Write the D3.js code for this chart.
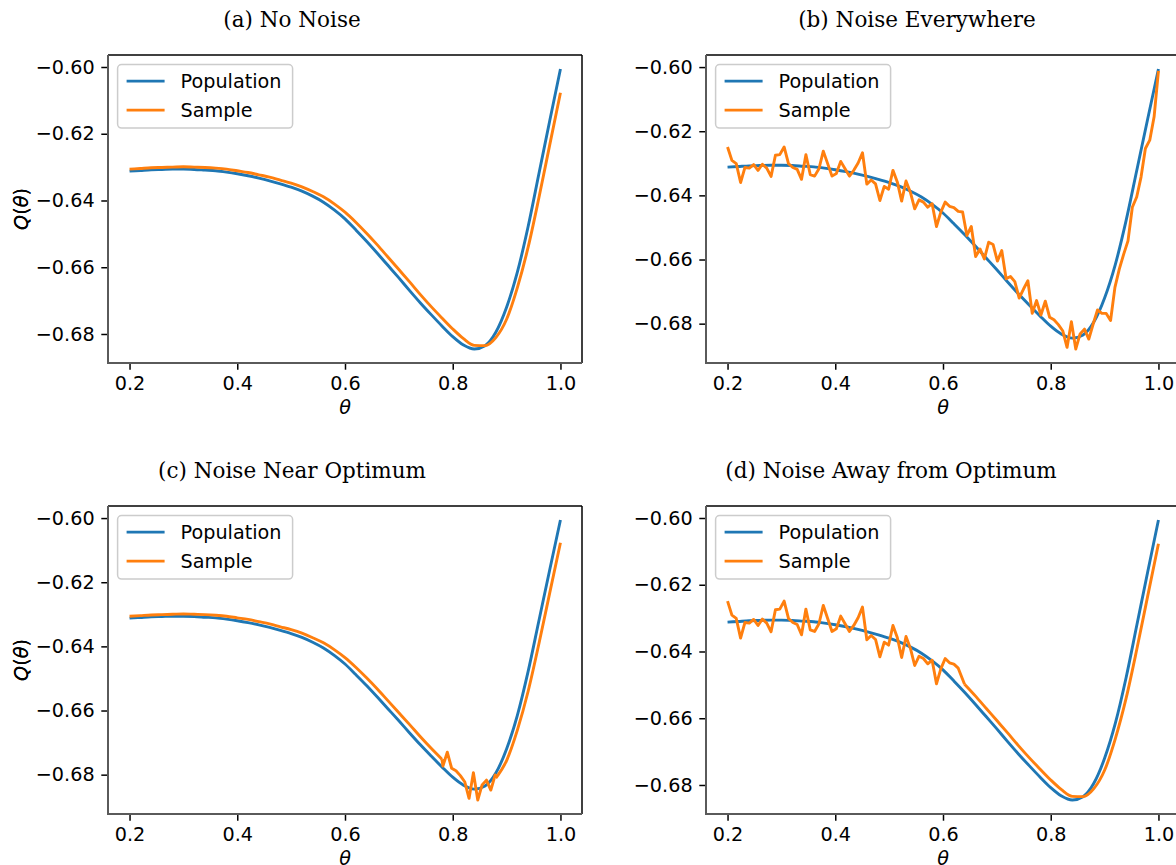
<!DOCTYPE html>
<html><head><meta charset="utf-8">
<script src="https://cdn.jsdelivr.net/npm/d3@7"></script>
<style>body{margin:0;background:#fff;} svg{display:block;}</style>
</head><body><svg id="chart" width="1176" height="865"></svg>
<script>
// ---------------- DATA ----------------
const panelTitles = ["(a) No Noise", "(b) Noise Everywhere", "(c) Noise Near Optimum", "(d) Noise Away from Optimum"];
const seriesNames = ["Population", "Sample"];
const xTicks = [0.2, 0.4, 0.6, 0.8, 1.0];
const yTicks = [-0.60, -0.62, -0.64, -0.66, -0.68];

// smooth curves sampled at theta = 0.20, 0.22, ..., 1.00
const thetaSmooth = [0.20,0.22,0.24,0.26,0.28,0.30,0.32,0.34,0.36,0.38,
                     0.40,0.42,0.44,0.46,0.48,0.50,0.52,0.54,0.56,0.58,
                     0.60,0.62,0.64,0.66,0.68,0.70,0.72,0.74,0.76,0.78,
                     0.80,0.82,0.84,0.86,0.88,0.90,0.92,0.94,0.96,0.98,1.00];
const population = [-0.6312,-0.6310,-0.6308,-0.6307,-0.6306,-0.6306,-0.6307,-0.6309,-0.6311,-0.6315,
                    -0.6320,-0.6326,-0.6333,-0.6341,-0.6350,-0.6360,-0.6372,-0.6387,-0.6405,-0.6428,
                    -0.6455,-0.6488,-0.6522,-0.6558,-0.6595,-0.6632,-0.6670,-0.6707,-0.6742,-0.6776,
                    -0.6808,-0.6833,-0.6845,-0.6835,-0.6795,-0.6720,-0.6615,-0.6478,-0.6320,-0.6162,-0.6006];
const sampleSmooth = [-0.6306,-0.6304,-0.6302,-0.6301,-0.6300,-0.6299,-0.6300,-0.6301,-0.6303,-0.6306,
                      -0.6311,-0.6316,-0.6323,-0.6330,-0.6339,-0.6348,-0.6359,-0.6373,-0.6389,-0.6410,
                      -0.6435,-0.6465,-0.6498,-0.6533,-0.6570,-0.6607,-0.6644,-0.6682,-0.6718,-0.6752,
                      -0.6785,-0.6814,-0.6834,-0.6835,-0.6811,-0.6756,-0.6661,-0.6540,-0.6392,-0.6234,-0.6077];

// noisy sample on 100 evenly spaced theta values from 0.2 to 1.0
const noisySample = [-0.6249,-0.6291,-0.6301,-0.6360,-0.6313,-0.6315,-0.6304,-0.6322,-0.6303,-0.6315,
                     -0.6341,-0.6275,-0.6273,-0.6249,-0.6301,-0.6313,-0.6319,-0.6350,-0.6273,-0.6335,
                     -0.6340,-0.6317,-0.6262,-0.6301,-0.6340,-0.6332,-0.6294,-0.6317,-0.6340,-0.6322,
                     -0.6299,-0.6267,-0.6365,-0.6352,-0.6364,-0.6416,-0.6372,-0.6381,-0.6322,-0.6358,
                     -0.6418,-0.6355,-0.6390,-0.6442,-0.6414,-0.6421,-0.6437,-0.6426,-0.6497,-0.6452,
                     -0.6421,-0.6434,-0.6438,-0.6450,-0.6452,-0.6525,-0.6497,-0.6591,-0.6567,-0.6598,
                     -0.6546,-0.6553,-0.6605,-0.6572,-0.6660,-0.6653,-0.6669,-0.6720,-0.6692,-0.6666,
                     -0.6768,-0.6728,-0.6773,-0.6730,-0.6780,-0.6788,-0.6803,-0.6822,-0.6874,-0.6794,
                     -0.6879,-0.6832,-0.6817,-0.6848,-0.6801,-0.6757,-0.6768,-0.6768,-0.6790,-0.6687,
                     -0.6630,-0.6584,-0.6542,-0.6437,-0.6405,-0.6343,-0.6254,-0.6228,-0.6155,-0.6012];
// index range of the noisy sample that each panel shows (null = none)
const noiseIndexRanges = [null, [0, 99], [72, 84], [0, 53]];

// ---------------- LAYOUT ----------------
const W = 1176, H = 865;
const panelBoxes = [
  {left:108, right:582, top:55,  bottom:363, titleX:292, titleY:27},
  {left:706, right:1180, top:55, bottom:363, titleX:917, titleY:27},
  {left:108, right:582, top:506, bottom:814, titleX:292, titleY:478},
  {left:706, right:1180, top:506, bottom:814, titleX:891, titleY:478}
];
const C_POP = "#1f77b4", C_SAMP = "#ff7f0e";
const FS = 19.2, TICK = 6.7, PAD = 6.7, LW = 2.9;
const FONT = "'DejaVu Sans', sans-serif";

const svg = d3.select("#chart");
svg.append("rect").attr("width", W).attr("height", H).attr("fill", "#fff");

const N = noisySample.length;
const thetaGrid = d3.range(N).map(i => 0.2 + i * (0.8 / (N - 1)));
const popPts = thetaSmooth.map((t, i) => [t, population[i]]);
const sampPts = thetaSmooth.map((t, i) => [t, sampleSmooth[i]]);
const noisyPts = thetaGrid.map((t, i) => [t, noisySample[i]]);

function sampleSegments(range) {
  if (!range) return [{pts: sampPts, curve: d3.curveMonotoneX}];
  const [a, b] = range;
  const ta = thetaGrid[a], tb = thetaGrid[b];
  const before = sampPts.filter(d => d[0] < ta - 1e-9);
  const after = sampPts.filter(d => d[0] > tb + 1e-9);
  const mid = noisyPts.slice(a, b + 1);
  const segs = [];
  if (before.length) segs.push({pts: before, curve: d3.curveMonotoneX});
  const linear = [];
  if (before.length) linear.push(before[before.length - 1]);
  linear.push(...mid);
  if (after.length) linear.push(after[0]);
  segs.push({pts: linear, curve: d3.curveLinear});
  if (after.length) segs.push({pts: after, curve: d3.curveMonotoneX});
  return segs;
}

panelBoxes.forEach((p, k) => {
  const g = svg.append("g");
  const segs = sampleSegments(noiseIndexRanges[k]);

  const xs = thetaSmooth;
  const [x0, x1] = d3.extent(xs), xp = (x1 - x0) * 0.05;
  const x = d3.scaleLinear().domain([x0 - xp, x1 + xp]).range([p.left, p.right]);
  const allY = population.concat(...segs.map(s => s.pts.map(d => d[1])));
  const [y0, y1] = d3.extent(allY), yp = (y1 - y0) * 0.05;
  const y = d3.scaleLinear().domain([y0 - yp, y1 + yp]).range([p.bottom, p.top]);

  const clipId = "clip" + k;
  svg.append("clipPath").attr("id", clipId).append("rect")
    .attr("x", p.left).attr("y", p.top).attr("width", p.right - p.left).attr("height", p.bottom - p.top);

  const lines = g.append("g").attr("clip-path", `url(#${clipId})`);
  lines.append("path").datum(popPts)
    .attr("d", d3.line().x(d => x(d[0])).y(d => y(d[1])).curve(d3.curveMonotoneX))
    .attr("fill", "none").attr("stroke", C_POP).attr("stroke-width", LW).attr("stroke-linejoin", "round");
  segs.forEach(s => {
    lines.append("path").datum(s.pts)
      .attr("d", d3.line().x(d => x(d[0])).y(d => y(d[1])).curve(s.curve))
      .attr("fill", "none").attr("stroke", C_SAMP).attr("stroke-width", LW)
      .attr("stroke-linejoin", "round").attr("stroke-linecap", "butt");
  });

  // axes
  const ya = g.append("g").attr("transform", `translate(${p.left},0)`)
    .call(d3.axisLeft(y).tickValues(yTicks).tickSize(TICK).tickPadding(PAD).tickFormat(d3.format(".2f")));
  const xa = g.append("g").attr("transform", `translate(0,${p.bottom})`)
    .call(d3.axisBottom(x).tickValues(xTicks).tickSize(TICK).tickPadding(PAD).tickFormat(d3.format(".1f")));
  [ya, xa].forEach(a => {
    a.select(".domain").remove();
    a.attr("font-size", FS).attr("font-family", FONT);
    a.selectAll("line").attr("stroke", "#000").attr("stroke-width", 1.5);
    a.selectAll("text").attr("fill", "#000");
  });

  // spines
  g.append("line").attr("x1", p.left).attr("x2", p.right).attr("y1", p.top).attr("y2", p.top)
    .attr("stroke", "#000").attr("stroke-width", 1.5);
  g.append("line").attr("x1", p.right).attr("x2", p.right).attr("y1", p.top).attr("y2", p.bottom)
    .attr("stroke", "#000").attr("stroke-width", 1.5);
  g.append("line").attr("x1", p.left).attr("x2", p.left).attr("y1", p.top).attr("y2", p.bottom + 1)
    .attr("stroke", "#5a5a5a").attr("stroke-width", 2);
  g.append("line").attr("x1", p.left - 1).attr("x2", p.right).attr("y1", p.bottom).attr("y2", p.bottom)
    .attr("stroke", "#5a5a5a").attr("stroke-width", 2);

  // axis labels
  g.append("text").attr("x", (p.left + p.right) / 2).attr("y", p.bottom + 44)
    .attr("text-anchor", "middle").attr("dominant-baseline", "central")
    .attr("font-family", FONT).attr("font-size", FS).attr("font-style", "italic").text("θ");
  const yl = g.append("text")
    .attr("transform", `translate(21,${(p.top + p.bottom) / 2}) rotate(-90)`)
    .attr("text-anchor", "middle").attr("dominant-baseline", "central")
    .attr("font-family", FONT).attr("font-size", FS);
  yl.append("tspan").attr("font-style", "italic").text("Q");
  yl.append("tspan").text("(");
  yl.append("tspan").attr("font-style", "italic").text("θ");
  yl.append("tspan").text(")");

  // title
  g.append("text").attr("x", p.titleX).attr("y", p.titleY).attr("text-anchor", "middle")
    .attr("font-family", "'DejaVu Serif', serif").attr("font-size", 21.5).text(panelTitles[k]);

  // legend
  const lx = p.left + 9.6, ly = p.top + 9.6;
  const lg = g.append("g");
  lg.append("rect").attr("x", lx).attr("y", ly).attr("width", 175).attr("height", 63.5).attr("rx", 4)
    .attr("fill", "#fff").attr("fill-opacity", 0.8).attr("stroke", "#cccccc").attr("stroke-width", 1.5);
  [C_POP, C_SAMP].forEach((c, i) => {
    const yy = ly + 16.5 + i * 29;
    lg.append("line").attr("x1", lx + 9).attr("x2", lx + 47).attr("y1", yy).attr("y2", yy)
      .attr("stroke", c).attr("stroke-width", LW);
    lg.append("text").attr("x", lx + 63).attr("y", yy).attr("dy", "0.35em")
      .attr("font-family", FONT).attr("font-size", FS).attr("fill", "#000").text(seriesNames[i]);
  });
});
</script></body></html>
